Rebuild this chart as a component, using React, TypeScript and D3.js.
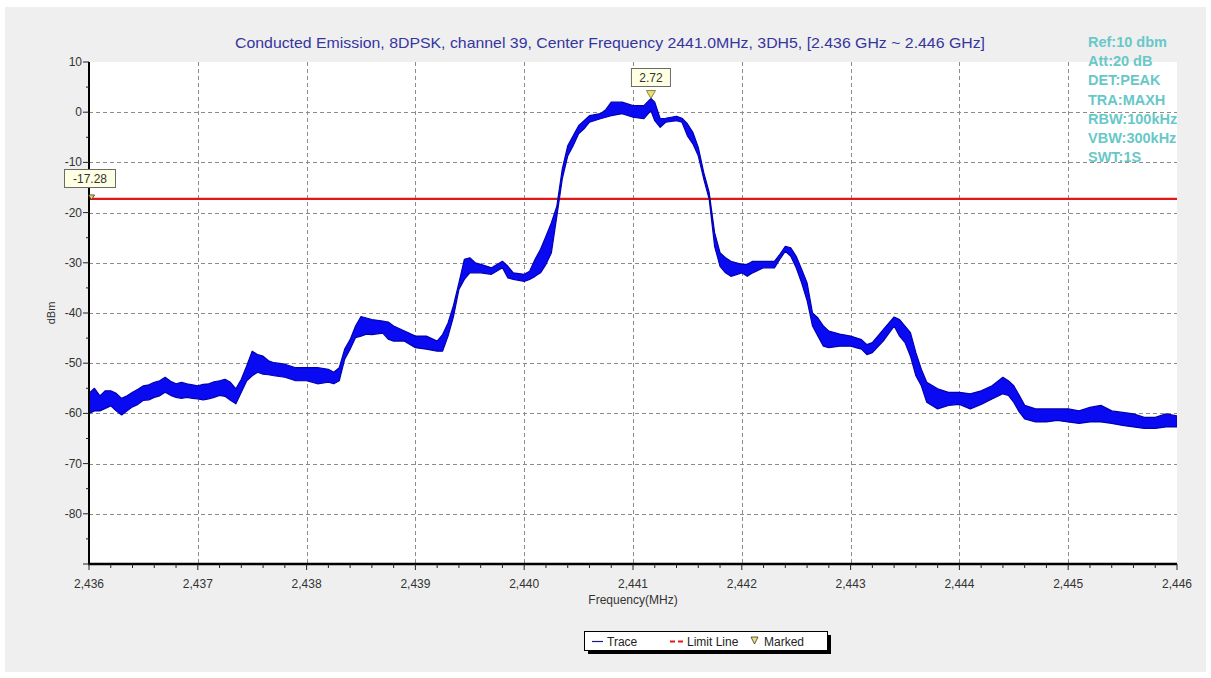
import React from 'react';
import * as d3 from 'd3';

// spectrum trace: frequency (MHz), max and min of the noisy band (dBm)
const freqs = [
  2436.00, 2436.05, 2436.10, 2436.15, 2436.20, 2436.25, 2436.30, 2436.35, 2436.40, 2436.45,
  2436.50, 2436.55, 2436.60, 2436.65, 2436.70, 2436.75, 2436.80, 2436.85, 2436.90, 2436.95,
  2437.00, 2437.05, 2437.10, 2437.15, 2437.20, 2437.25, 2437.30, 2437.35, 2437.40, 2437.45,
  2437.50, 2437.55, 2437.60, 2437.65, 2437.70, 2437.80, 2437.90, 2438.00, 2438.10, 2438.20,
  2438.25, 2438.30, 2438.35, 2438.40, 2438.45, 2438.50, 2438.55, 2438.60, 2438.70, 2438.75,
  2438.80, 2438.90, 2439.00, 2439.10, 2439.20, 2439.25, 2439.30, 2439.35, 2439.40, 2439.45,
  2439.50, 2439.55, 2439.60, 2439.70, 2439.80, 2439.85, 2439.90, 2440.00, 2440.05, 2440.10,
  2440.15, 2440.20, 2440.25, 2440.30, 2440.35, 2440.40, 2440.45, 2440.50, 2440.55, 2440.60,
  2440.70, 2440.75, 2440.80, 2440.90, 2441.00, 2441.10, 2441.165, 2441.20, 2441.25, 2441.30,
  2441.40, 2441.45, 2441.50, 2441.55, 2441.60, 2441.65, 2441.70, 2441.75, 2441.80, 2441.85,
  2441.90, 2442.00, 2442.05, 2442.10, 2442.20, 2442.30, 2442.35, 2442.40, 2442.45, 2442.50,
  2442.55, 2442.60, 2442.65, 2442.70, 2442.75, 2442.80, 2442.90, 2443.00, 2443.10, 2443.15,
  2443.20, 2443.30, 2443.40, 2443.45, 2443.50, 2443.55, 2443.60, 2443.65, 2443.70, 2443.80,
  2443.90, 2444.00, 2444.10, 2444.20, 2444.30, 2444.40, 2444.45, 2444.50, 2444.55, 2444.60,
  2444.70, 2444.80, 2444.90, 2445.00, 2445.10, 2445.20, 2445.30, 2445.40, 2445.50, 2445.60,
  2445.70, 2445.80, 2445.90, 2446.00,
];
const traceHi = [
  -56.0, -55.0, -56.5, -55.5, -55.5, -56.0, -57.0, -56.5, -55.8, -55.2,
  -54.5, -54.3, -53.8, -53.5, -52.8, -53.6, -54.1, -53.8, -54.1, -54.3,
  -54.5, -54.2, -54.1, -53.7, -53.5, -53.2, -53.8, -55.1, -53.2, -50.5,
  -47.6, -48.3, -48.6, -49.5, -49.9, -50.2, -50.9, -50.9, -50.9, -51.2,
  -51.8, -50.9, -47.2, -45.3, -42.6, -40.7, -41.0, -41.3, -41.6, -41.8,
  -42.6, -43.6, -44.6, -44.6, -45.6, -44.3, -42.0, -38.5, -34.0, -29.3,
  -29.0, -30.0, -30.3, -31.0, -29.7, -30.7, -32.0, -32.3, -31.7, -29.3,
  -27.3, -24.7, -22.0, -18.7, -11.3, -6.7, -4.7, -2.7, -1.7, -0.7,
  -0.3, 0.5, 2.0, 2.0, 1.3, 1.3, 2.72, 2.0, -1.3, -1.2,
  -0.8, -1.2, -2.3, -4.0, -7.0, -12.0, -16.0, -24.0, -28.0, -29.0,
  -29.7, -30.3, -30.3, -29.7, -29.7, -29.7, -28.3, -26.7, -27.0, -28.7,
  -31.3, -34.0, -40.0, -41.0, -42.6, -43.6, -44.2, -44.6, -45.3, -46.3,
  -45.9, -43.3, -40.8, -41.3, -42.6, -43.9, -47.9, -51.2, -53.8, -55.1,
  -55.8, -55.8, -56.1, -55.5, -54.5, -52.8, -53.5, -54.5, -56.4, -58.4,
  -59.1, -59.1, -59.1, -59.1, -59.5, -58.8, -58.4, -59.5, -59.8, -60.1,
  -60.8, -60.8, -60.1, -60.5,
];
const traceLo = [
  -60.0, -59.5, -59.5, -59.0, -58.5, -59.5, -60.3, -59.5, -58.7, -58.2,
  -57.4, -57.3, -56.8, -56.5, -55.8, -56.4, -56.8, -57.0, -56.8, -57.0,
  -57.1, -57.3, -57.1, -56.8, -56.4, -56.6, -57.4, -58.1, -55.8, -53.5,
  -52.5, -51.8, -52.2, -52.3, -52.5, -52.8, -53.5, -53.5, -54.1, -53.8,
  -54.1, -53.5, -49.2, -47.2, -44.9, -44.6, -44.2, -44.3, -44.0, -45.2,
  -45.6, -45.6, -46.9, -47.2, -47.6, -47.6, -44.6, -40.7, -35.3, -33.3,
  -32.0, -32.0, -32.0, -32.3, -31.0, -33.0, -33.3, -33.7, -33.3, -32.7,
  -32.0, -30.3, -28.0, -20.7, -13.3, -8.7, -6.7, -4.3, -3.3, -2.0,
  -1.3, -1.0, -0.7, -0.3, -1.0, -1.3, 0.3, -1.7, -3.0, -2.0,
  -1.7, -2.0, -4.7, -6.3, -8.7, -13.3, -17.3, -26.7, -30.7, -32.0,
  -32.7, -32.0, -32.7, -32.0, -31.0, -31.0, -29.3, -27.7, -28.7, -31.0,
  -34.0, -37.5, -42.6, -44.6, -46.6, -46.9, -46.6, -46.6, -47.2, -48.3,
  -47.9, -45.6, -42.6, -44.6, -45.9, -48.6, -52.5, -54.5, -57.8, -59.1,
  -58.4, -58.2, -59.1, -58.2, -57.1, -56.1, -56.4, -57.8, -59.7, -61.1,
  -61.7, -61.7, -61.4, -61.7, -62.0, -61.7, -61.7, -62.0, -62.4, -62.7,
  -63.0, -63.0, -62.7, -62.7,
];

const xTicks = [2436, 2437, 2438, 2439, 2440, 2441, 2442, 2443, 2444, 2445, 2446];
const yTicks = [10, 0, -10, -20, -30, -40, -50, -60, -70, -80];
const limitValue = -17.28;
const peakFreq = 2441.165;
const peakValue = 2.72;
const infoLines = ['Ref:10 dbm', 'Att:20 dB', 'DET:PEAK', 'TRA:MAXH', 'RBW:100kHz', 'VBW:300kHz', 'SWT:1S'];
const title = 'Conducted Emission, 8DPSK, channel 39, Center Frequency 2441.0MHz, 3DH5, [2.436 GHz ~ 2.446 GHz]';

const W = 1211;
const H = 678;
const plot = { left: 89, right: 1177, top: 62, bottom: 564 };
const font = 'Arial, "Liberation Sans", sans-serif';

export default function App() {
  const x = d3.scaleLinear().domain([2436, 2446]).range([plot.left, plot.right]);
  const y = d3.scaleLinear().domain([-90, 10]).range([plot.bottom, plot.top]);

  const idx = d3.range(freqs.length);
  const band = d3.area<number>()
    .x(i => x(freqs[i]))
    .y0(i => y(traceLo[i]))
    .y1(i => y(traceHi[i]));

  const minorX = d3.range(2436, 2446.001, 0.2);
  const minorY = d3.range(-90, 10.001, 5);
  const fmt = d3.format(',');

  const limY = y(limitValue);
  const px = x(peakFreq);
  const py = y(peakValue);

  return (
    <svg width={W} height={H} style={{ position: 'absolute', left: 0, top: 0 }} fontFamily={font}>
      <rect x={0} y={0} width={W} height={H} fill="#ffffff" />
      <rect x={5} y={7} width={1201} height={665} fill="#efefef" />
      <rect x={plot.left} y={plot.top} width={plot.right - plot.left} height={plot.bottom - plot.top} fill="#ffffff" />

      <text x={235} y={48} fontSize={15} textLength={750} lengthAdjust="spacingAndGlyphs" fill="#35359e">{title}</text>

      {/* grid */}
      <g stroke="#8c8c8c" strokeWidth={1} strokeDasharray="4,3">
        {xTicks.slice(1, -1).map(t => (
          <line key={t} x1={Math.round(x(t)) + 0.5} x2={Math.round(x(t)) + 0.5} y1={plot.top} y2={plot.bottom} />
        ))}
        {yTicks.slice(1).map(t => (
          <line key={t} x1={plot.left} x2={plot.right} y1={Math.round(y(t)) + 0.5} y2={Math.round(y(t)) + 0.5} />
        ))}
      </g>

      <defs>
        <clipPath id="plotClip">
          <rect x={plot.left} y={plot.top} width={plot.right - plot.left} height={plot.bottom - plot.top} />
        </clipPath>
      </defs>

      {/* limit line */}
      <line x1={plot.left} x2={plot.right} y1={limY} y2={limY} stroke="#e01818" strokeWidth={2.2} />

      {/* trace */}
      <g clipPath="url(#plotClip)">
        <path d={band(idx) || ''} fill="#0a0af2" stroke="#0000b4" strokeWidth={1.2} strokeLinejoin="round" />
      </g>

      {/* axes */}
      <line x1={plot.left} x2={plot.left} y1={plot.top} y2={plot.bottom + 1} stroke="#000" strokeWidth={2} />
      <line x1={plot.left - 1} x2={plot.right} y1={plot.bottom} y2={plot.bottom} stroke="#000" strokeWidth={2.4} />
      <g stroke="#222" strokeWidth={1}>
        {minorX.map((t, i) => (
          <line key={i} x1={x(t)} x2={x(t)} y1={plot.bottom} y2={plot.bottom + (i % 5 === 0 ? 6 : 4)} />
        ))}
        {minorY.map((t, i) => (
          <line key={i} x1={plot.left - (t % 10 === 0 ? 6 : 3)} x2={plot.left} y1={y(t)} y2={y(t)} />
        ))}
      </g>
      <g fontSize={12} fill="#333">
        {xTicks.map(t => (
          <text key={t} x={x(t)} y={588} textAnchor="middle">{fmt(t)}</text>
        ))}
        {yTicks.map(t => (
          <text key={t} x={plot.left - 7} y={y(t) + 4} textAnchor="end">{t}</text>
        ))}
      </g>
      <text x={633} y={604} textAnchor="middle" fontSize={12} fill="#333">Frequency(MHz)</text>
      <text transform={`translate(55,${(plot.top + plot.bottom) / 2}) rotate(-90)`} textAnchor="middle" fontSize={11} fill="#333">dBm</text>

      {/* instrument settings */}
      <g fontSize={14.5} fontWeight="bold" fill="#68c8c8">
        {infoLines.map(s => (
          <text key={s} x={1088} y={47 + infoLines.indexOf(s) * 19.2}>{s}</text>
        ))}
      </g>

      {/* limit marker */}
      <rect x={64.5} y={169.5} width={51} height={18} fill="#ffffe4" stroke="#6a6a6a" />
      <text x={90} y={183} textAnchor="middle" fontSize={12} fill="#333">{limitValue}</text>
      <path d={`M${plot.left - 0.5},${limY - 4} h6 l-3,5 z`} fill="#e8d848" stroke="#333" strokeWidth={0.8} />

      {/* peak marker */}
      <rect x={px - 19.5} y={68.5} width={39} height={18} fill="#ffffe4" stroke="#6a6a6a" />
      <text x={px} y={82} textAnchor="middle" fontSize={12} fill="#333">{peakValue}</text>
      <path d={`M${px - 4.5},${py - 8} h9 l-4.5,8 z`} fill="#ece070" stroke="#6a6a30" strokeWidth={0.8} />

      {/* legend */}
      <rect x={588} y={635} width={243} height={19} fill="#000" />
      <rect x={584.5} y={631.5} width={243} height={19} fill="#fff" stroke="#000" />
      <line x1={592} x2={603} y1={641.5} y2={641.5} stroke="#1a1a80" strokeWidth={1.2} />
      <text x={607} y={645.5} fontSize={12} fill="#222">Trace</text>
      <line x1={670} x2={684} y1={641.5} y2={641.5} stroke="#e01818" strokeWidth={2} strokeDasharray="5,3" />
      <text x={687} y={645.5} fontSize={12} fill="#222">Limit Line</text>
      <path d="M751,637 h7 l-3.5,7 z" fill="#ece070" stroke="#333" strokeWidth={0.8} />
      <text x={764} y={645.5} fontSize={12} fill="#222">Marked</text>
    </svg>
  );
}
